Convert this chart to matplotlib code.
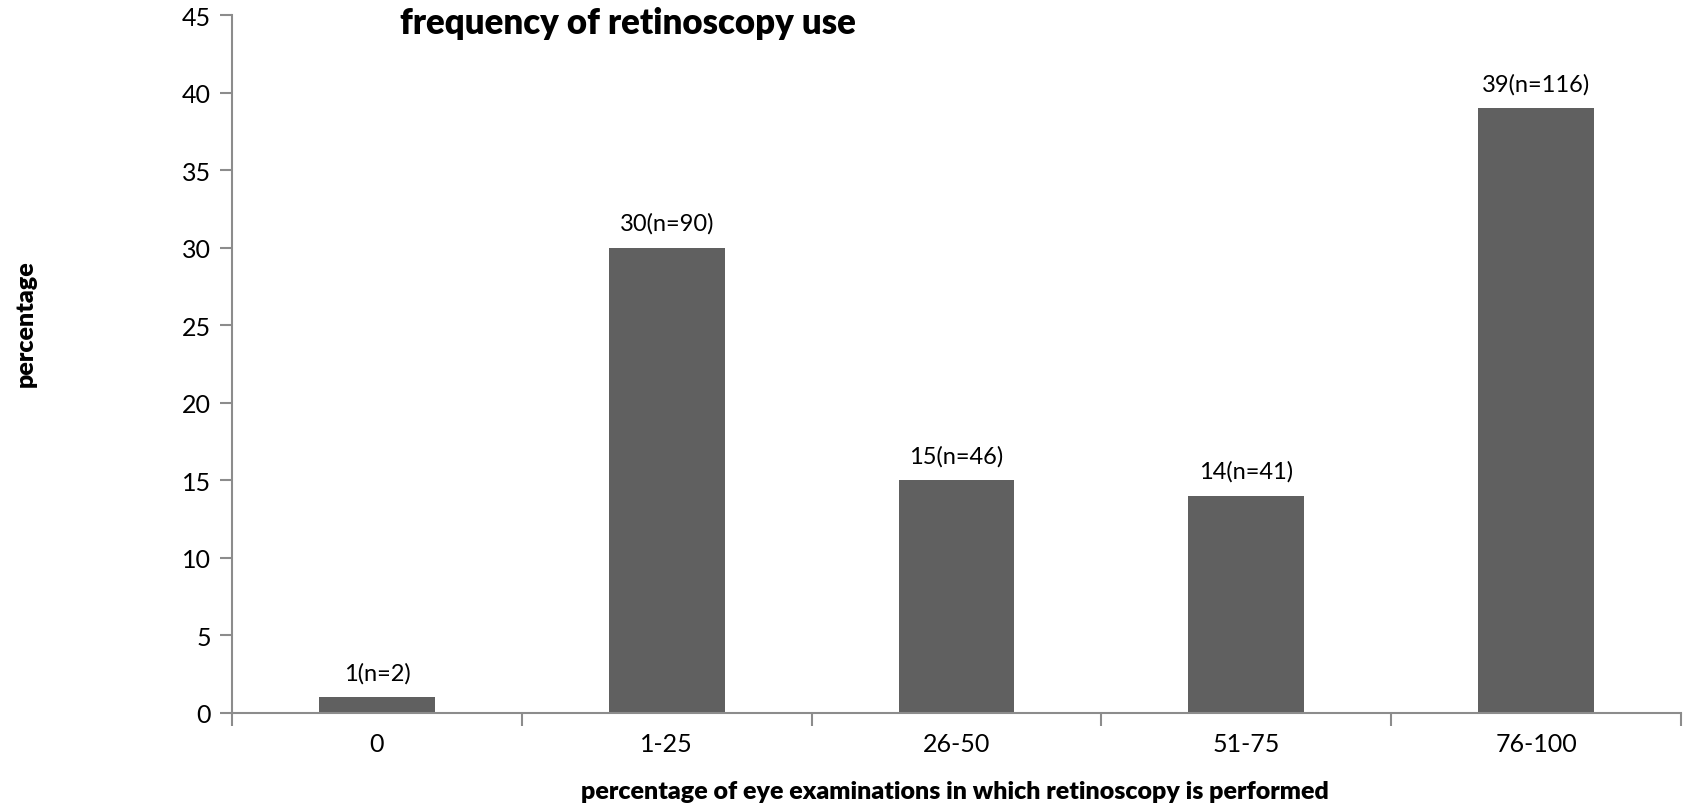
import numpy as np
import matplotlib.pyplot as plt

plt.rcParams['font.family'] = ['Lato', 'DejaVu Sans']

# retinoscopy usage survey results
categories = ['0', '1-25', '26-50', '51-75', '76-100']
percentages = [1, 30, 15, 14, 39]
counts = [2, 90, 46, 41, 116]

bar_color = '#606060'
axis_color = '#8c8c8c'

fig = plt.figure(figsize=(16.85, 8.04), dpi=100)
ax = fig.add_axes([232 / 1685, 1 - 714 / 804, (1681 - 232) / 1685, (714 - 16) / 804])

x = np.arange(len(categories))
ax.bar(x, percentages, width=0.4, color=bar_color, zorder=2)

for xi, p, n in zip(x, percentages, counts):
    ax.annotate(f'{p}(n={n})', (xi, p), xytext=(0, 10), textcoords='offset points',
                ha='center', va='bottom', fontsize=17)

ax.set_xlim(-0.5, len(categories) - 0.5)
ax.set_ylim(0, 45)
ax.set_yticks(range(0, 46, 5))
ax.tick_params(axis='y', labelsize=18, length=9, width=1.5, color=axis_color, pad=6)

# category labels sit between boundary ticks
ax.set_xticks(np.arange(-0.5, len(categories), 1))
ax.set_xticklabels([])
ax.set_xticks(x, minor=True)
ax.set_xticklabels(categories, minor=True, fontsize=18)
ax.tick_params(axis='x', which='major', length=9, width=1.5, color=axis_color)
ax.tick_params(axis='x', which='minor', length=0, pad=14)

for side in ['top', 'right']:
    ax.spines[side].set_visible(False)
for side in ['left', 'bottom']:
    ax.spines[side].set_color(axis_color)
    ax.spines[side].set_linewidth(1.5)

fig.text(400 / 1685, 1 - 24 / 804, 'frequency of retinoscopy use', fontsize=25,
         fontweight='heavy', ha='left', va='center')
fig.text(955 / 1685, 1 - 792 / 804, 'percentage of eye examinations in which retinoscopy is performed',
         fontsize=18, fontweight='heavy', ha='center', va='center')
fig.text(26 / 1685, 1 - 324 / 804, 'percentage', fontsize=18, fontweight='heavy',
         rotation=90, ha='center', va='center')

fig.savefig('out.png', dpi=100)
